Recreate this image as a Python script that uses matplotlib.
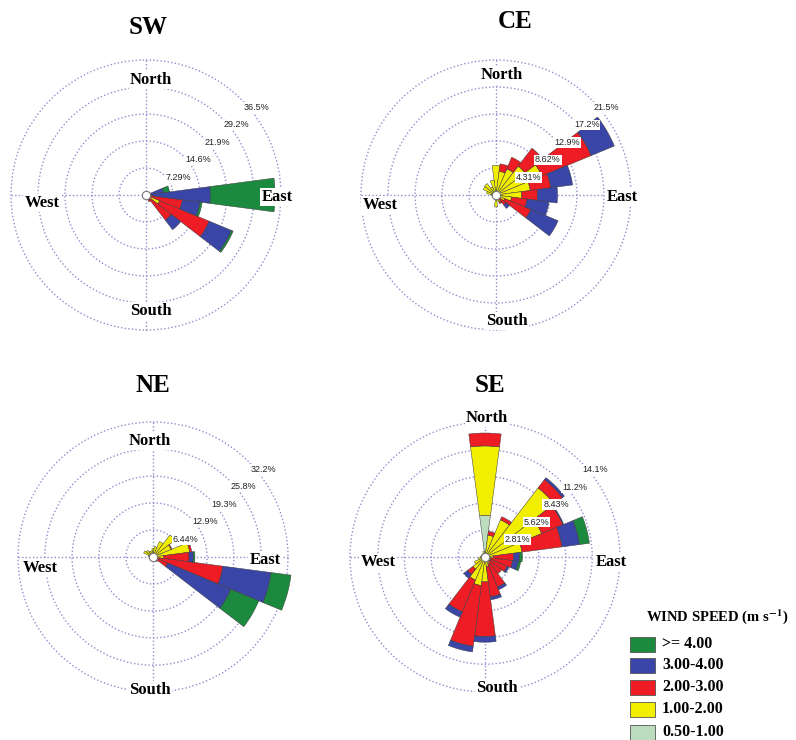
import numpy as np
import matplotlib.pyplot as plt
from matplotlib.patches import Rectangle

plt.rcParams['mathtext.fontset'] = 'stix'

W, H = 796, 740

# wind directions (compass degrees), 24 sectors of 15 deg
dirs = np.arange(0, 360, 15)

bins = ['0.50-1.00', '1.00-2.00', '2.00-3.00', '3.00-4.00', '>= 4.00']
cols = ['#bcdcc0', '#f2ee00', '#ee1c24', '#3a45a8', '#1b8a3e']

# frequencies (%) per direction and speed class
sw_pale = [0]*24
sw_yellow = [0.3, 0.3, 0.3, 0.3, 0.4, 0.3, 0.5, 1.0, 4.0, 0.8, 0.5, 0.3,
             0.3, 0.2, 0.2, 0.2, 0.2, 0.2, 0.2, 0.2, 0.2, 0.2, 0.2, 0.3]
sw_red = [0, 0, 0, 0, 0.3, 0.7, 1.0, 8.9, 14.5, 7.8, 1.5, 0.5,
          0.2, 0, 0, 0, 0, 0, 0, 0, 0, 0, 0, 0]
sw_blue = [0, 0, 0, 0, 0, 3.8, 15.9, 4.8, 6.5, 3.2, 0, 0,
           0, 0, 0, 0, 0, 0, 0, 0, 0, 0, 0, 0]
sw_green = [0, 0, 0, 0, 0, 1.6, 17.5, 0.6, 0.5, 0, 0, 0,
            0, 0, 0, 0, 0, 0, 0, 0, 0, 0, 0, 0]

ce_pale = [0]*24
ce_yellow = [4.7, 3.8, 4.5, 5.8, 7.9, 5.5, 4.1, 2.5, 1.5, 0.8, 1.2, 1.0,
             1.9, 0.8, 0.4, 0.4, 0.4, 0.4, 0.8, 1.5, 2.2, 2.3, 1.4, 2.4]
ce_red = [0, 1.2, 2.0, 3.6, 8.5, 3.3, 2.5, 2.5, 4.5, 1.2, 0.3, 0,
          0, 0, 0, 0, 0, 0, 0, 0, 0, 0, 0, 0]
ce_blue = [0, 0, 0, 0, 4.0, 3.5, 3.2, 3.5, 4.7, 0.7, 0, 0,
           0, 0, 0, 0, 0, 0, 0, 0, 0, 0, 0, 0]
ce_green = [0]*24

ne_pale = [0]*24
ne_yellow = [2.0, 2.5, 4.0, 6.6, 4.7, 8.8, 2.5, 1.0, 0.5, 0.4, 0.3, 0.3,
             0.3, 0.3, 0.3, 0.3, 0.3, 0.3, 0.8, 1.2, 2.4, 2.0, 1.5, 1.5]
ne_red = [0, 0, 0, 0, 0.2, 0.5, 6.1, 15.8, 3.3, 1.0, 0, 0,
          0, 0, 0, 0, 0, 0, 0, 0, 0, 0, 0, 0]
ne_blue = [0, 0, 0, 0, 0, 0, 1.0, 11.6, 16.3, 0, 0, 0,
           0, 0, 0, 0, 0, 0, 0, 0, 0, 0, 0, 0]
ne_green = [0, 0, 0, 0, 0, 0, 0.4, 4.8, 7.2, 0, 0, 0,
            0, 0, 0, 0, 0, 0, 0, 0, 0, 0, 0, 0]

se_pale = [4.35, 0.3, 0.2, 0.2, 0.2, 0.2, 0.2, 0.1, 0.1, 0.1, 0.1, 0.2,
           0.3, 0.3, 0.2, 0.2, 0.2, 0.2, 0.2, 0.2, 0.2, 0.2, 0.2, 0.3]
se_yellow = [7.25, 2.0, 4.0, 8.9, 6.2, 3.7, 0.7, 0.5, 0.6, 0.5, 0.7, 0.8,
             2.3, 2.7, 2.4, 1.4, 1.0, 0.5, 0.3, 0.2, 0.2, 0.2, 0.2, 0.3]
se_red = [1.35, 0.4, 0.35, 1.1, 2.4, 4.2, 2.1, 2.3, 1.8, 1.6, 2.6, 3.2,
          5.7, 6.4, 3.6, 0.7, 0, 0, 0, 0, 0, 0, 0, 0]
se_blue = [0, 0, 0, 0.25, 0.1, 1.85, 0.6, 0.6, 0.2, 0, 0.3, 0.3,
           0.6, 0.6, 0.6, 0.5, 0, 0, 0, 0, 0, 0, 0, 0]
se_green = [0, 0, 0, 0, 0, 1.05, 0.3, 0.25, 0, 0, 0, 0,
            0, 0, 0, 0, 0, 0, 0, 0, 0, 0, 0, 0]

sw_rings = [7.29, 14.6, 21.9, 29.2, 36.5]
ce_rings = [4.31, 8.62, 12.9, 17.2, 21.5]
ne_rings = [6.44, 12.9, 19.3, 25.8, 32.2]
se_rings = [2.81, 5.62, 8.43, 11.2, 14.1]

panels = [
    dict(name='SW', c=(146, 195), t=(148, 28), rings=sw_rings,
         data=[sw_pale, sw_yellow, sw_red, sw_blue, sw_green],
         lab={'North': (151, 80), 'South': (151, 311), 'West': (42, 203), 'East': (277, 197)}),
    dict(name='CE', c=(496, 195), t=(515, 22), rings=ce_rings,
         data=[ce_pale, ce_yellow, ce_red, ce_blue, ce_green],
         lab={'North': (502, 75), 'South': (507, 321), 'West': (380, 205), 'East': (622, 197)}),
    dict(name='NE', c=(153, 557), t=(153, 385), rings=ne_rings,
         data=[ne_pale, ne_yellow, ne_red, ne_blue, ne_green],
         lab={'North': (150, 441), 'South': (150, 690), 'West': (40, 568), 'East': (265, 560)}),
    dict(name='SE', c=(485, 557), t=(490, 385), rings=se_rings,
         data=[se_pale, se_yellow, se_red, se_blue, se_green],
         lab={'North': (487, 418), 'South': (497, 688), 'West': (378, 562), 'East': (611, 562)}),
]

ring_px = 135
Rm = ring_px * 1.06
gridc = '#8f8fd0'
serif = 'Liberation Serif'

fig = plt.figure(figsize=(W/100, H/100), dpi=100)

for p in panels:
    cx, cy = p['c']
    ax = fig.add_axes([(cx - Rm)/W, (H - cy - Rm)/H, 2*Rm/W, 2*Rm/H], projection='polar')
    ax.set_theta_zero_location('N')
    ax.set_theta_direction(-1)
    rmax = p['rings'][-1] * 1.06
    ax.set_ylim(0, rmax)
    ax.set_xticks([])
    ax.set_yticks(p['rings'])
    ax.set_yticklabels([])
    ax.yaxis.grid(True, color=gridc, linestyle=(0, (1, 1.6)), lw=1.0)
    ax.spines['polar'].set_visible(False)

    # crosshair lines
    for a in [0, 90, 180, 270]:
        ax.plot([np.deg2rad(a)]*2, [0, p['rings'][-1]], color=gridc,
                linestyle=(0, (1, 1.6)), lw=1.0, zorder=1)

    th = np.deg2rad(dirs)
    w = np.deg2rad(15)
    bottom = np.zeros(len(dirs))
    for vals, col in zip(p['data'], cols):
        vals = np.array(vals, dtype=float)
        m = vals > 0
        ax.bar(th[m], vals[m], width=w, bottom=bottom[m], color=col,
               edgecolor='#3a3a3a', linewidth=0.35, zorder=2)
        bottom += vals

    ax.plot(0, 0, 'o', ms=6, mfc='white', mec='#777777', mew=0.8, zorder=5)

    for r in p['rings']:
        ax.text(np.deg2rad(48), r*0.97, '%g%%' % r, fontsize=6.5,
                family='Liberation Sans', color='#222222', ha='left', va='center',
                zorder=6, bbox=dict(facecolor='white', edgecolor='none', pad=0.6))

    fig.text(p['t'][0]/W, 1 - p['t'][1]/H, p['name'], family=serif,
             fontweight='bold', fontsize=18, ha='center', va='center')
    for k, (x, y) in p['lab'].items():
        fig.text(x/W, 1 - y/H, k, family=serif, fontweight='bold', fontsize=12,
                 ha='center', va='center',
                 bbox=dict(facecolor='white', edgecolor='none', pad=1.0))

# legend
fig.text(717/W, 1 - 617/H, r'WIND SPEED (m s$^{\mathbf{-1}}$)', family=serif,
         fontweight='bold', fontsize=10.5, ha='center', va='center')
ys = [644, 665, 687, 709, 732]
for lbl, col, y in zip(bins[::-1], cols[::-1], ys):
    fig.patches.append(Rectangle((630/W, 1 - (y + 7.5)/H), 25/W, 15/H,
                                 transform=fig.transFigure, facecolor=col,
                                 edgecolor='#555555', lw=0.6))
    fig.text(662/W, 1 - y/H, lbl, family=serif, fontweight='bold', fontsize=11.5,
             ha='left', va='center')

fig.savefig('out.png', dpi=100, facecolor='white')
